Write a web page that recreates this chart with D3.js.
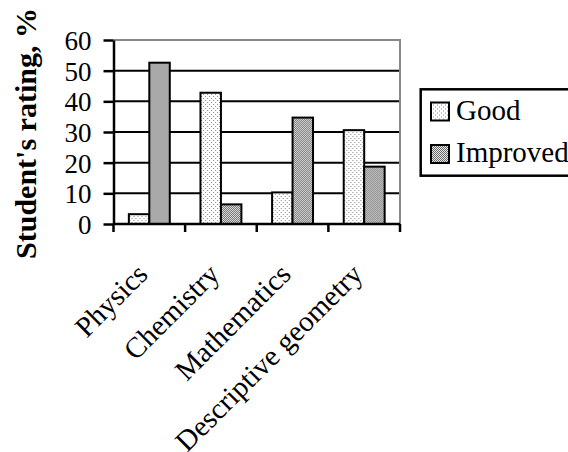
<!DOCTYPE html>
<html>
<head>
<meta charset="utf-8">
<script src="https://cdn.jsdelivr.net/npm/d3@7"></script>
<style>
  body { margin: 0; background: #fff; overflow: hidden; }
  svg { display: block; }
  svg text { font-family: 'Liberation Serif', 'Times New Roman', serif !important; fill: #000; }
</style>
</head>
<body>
<div id="chart"></div>
<script>
const categories = ['Physics', 'Chemistry', 'Mathematics', 'Descriptive geometry'];
const seriesNames = ['Good', 'Improved'];
const good = [3.2, 42.8, 10.3, 30.6];
const improved = [52.6, 6.4, 34.7, 18.7];
const yTicks = [0, 10, 20, 30, 40, 50, 60];

const width = 568;
const height = 452;
const plot = { left: 113.5, right: 400, top: 40, bottom: 224 };

const svg = d3.select('#chart').append('svg')
  .attr('width', width)
  .attr('height', height);

// fill patterns like the old spreadsheet bars
const defs = svg.append('defs');
const dots = defs.append('pattern')
  .attr('id', 'pat-good')
  .attr('patternUnits', 'userSpaceOnUse')
  .attr('width', 4).attr('height', 4);
dots.append('rect').attr('width', 4).attr('height', 4).attr('fill', '#fff');
dots.append('rect').attr('x', 0).attr('y', 0).attr('width', 1).attr('height', 1).attr('fill', '#888');
dots.append('rect').attr('x', 2).attr('y', 2).attr('width', 1).attr('height', 1).attr('fill', '#888');

const checker = defs.append('pattern')
  .attr('id', 'pat-improved')
  .attr('patternUnits', 'userSpaceOnUse')
  .attr('width', 2).attr('height', 2);
checker.append('rect').attr('width', 2).attr('height', 2).attr('fill', '#e8e8e8');
checker.append('rect').attr('x', 0).attr('y', 0).attr('width', 1).attr('height', 1).attr('fill', '#6a6a6a');
checker.append('rect').attr('x', 1).attr('y', 1).attr('width', 1).attr('height', 1).attr('fill', '#6a6a6a');

const fills = { Good: 'url(#pat-good)', Improved: 'url(#pat-improved)' };

const x0 = d3.scaleBand()
  .domain(categories)
  .range([plot.left, plot.right])
  .padding(0);
const x1 = d3.scaleBand()
  .domain(seriesNames)
  .range([0, x0.bandwidth()])
  .paddingInner(0)
  .paddingOuter(0.75);
const y = d3.scaleLinear()
  .domain([0, 60])
  .range([plot.bottom, plot.top]);

// gridlines
svg.append('g')
  .selectAll('line')
  .data(yTicks.filter(d => d > 0 && d < 60))
  .join('line')
  .attr('x1', plot.left).attr('x2', plot.right)
  .attr('y1', d => y(d)).attr('y2', d => y(d))
  .attr('stroke', '#000').attr('stroke-width', 2);

// gray top / right frame
svg.append('path')
  .attr('d', `M${plot.left},${y(60)}H${plot.right}V${plot.bottom}`)
  .attr('fill', 'none')
  .attr('stroke', '#888')
  .attr('stroke-width', 2);

// bars
const rows = categories.map((c, i) => ({ category: c, Good: good[i], Improved: improved[i] }));
svg.append('g')
  .selectAll('g')
  .data(rows)
  .join('g')
  .attr('transform', d => `translate(${x0(d.category)},0)`)
  .selectAll('rect')
  .data(d => seriesNames.map(key => ({ key, value: d[key] })))
  .join('rect')
  .attr('x', d => x1(d.key))
  .attr('y', d => y(d.value))
  .attr('width', x1.bandwidth())
  .attr('height', d => y(0) - y(d.value))
  .attr('fill', d => fills[d.key])
  .attr('stroke', '#000')
  .attr('stroke-width', 2);

// y axis
const yAxis = svg.append('g')
  .attr('transform', `translate(${plot.left},0)`)
  .call(d3.axisLeft(y).tickValues(yTicks).tickSize(10).tickPadding(12).tickSizeOuter(0));
yAxis.select('.domain').attr('stroke-width', 2.5);
yAxis.selectAll('.tick line').attr('stroke-width', 2.5);
yAxis.selectAll('.tick text')
  .attr('font-size', 27)
  .attr('dy', '0.35em');

// x axis with ticks between categories
const xAxis = svg.append('g')
  .attr('transform', `translate(0,${plot.bottom})`);
xAxis.append('line')
  .attr('x1', plot.left).attr('x2', plot.right)
  .attr('stroke', '#000').attr('stroke-width', 2.5);
xAxis.selectAll('line.tick')
  .data(categories.map(c => x0(c)).concat([plot.right]))
  .join('line')
  .attr('class', 'tick')
  .attr('x1', d => d).attr('x2', d => d)
  .attr('y1', 0).attr('y2', 8)
  .attr('stroke', '#000').attr('stroke-width', 2.5);
xAxis.selectAll('text')
  .data(categories)
  .join('text')
  .attr('transform', d => `translate(${x0(d) + x0.bandwidth() / 2},52) rotate(-45)`)
  .attr('text-anchor', 'end')
  .attr('font-size', 29)
  .text(d => d);

// y title
svg.append('text')
  .attr('transform', `translate(36,${(10 + 257) / 2}) rotate(-90)`)
  .attr('text-anchor', 'middle')
  .attr('font-size', 30)
  .attr('font-weight', 'bold')
  .text("Student's rating, %");

// legend
const legend = svg.append('g');
legend.append('rect')
  .attr('x', 420.7).attr('y', 89.3)
  .attr('width', 200).attr('height', 86.4)
  .attr('fill', '#fff')
  .attr('stroke', '#000').attr('stroke-width', 2.5);
const items = legend.selectAll('g.item')
  .data(seriesNames)
  .join('g')
  .attr('class', 'item')
  .attr('transform', (d, i) => `translate(431,${102.5 + i * 42.5})`);
items.append('rect')
  .attr('width', 18).attr('height', 18)
  .attr('fill', d => fills[d])
  .attr('stroke', '#000').attr('stroke-width', 2);
items.append('text')
  .attr('x', 25).attr('y', 17)
  .attr('font-size', 29)
  .text(d => d);
</script>
</body>
</html>
